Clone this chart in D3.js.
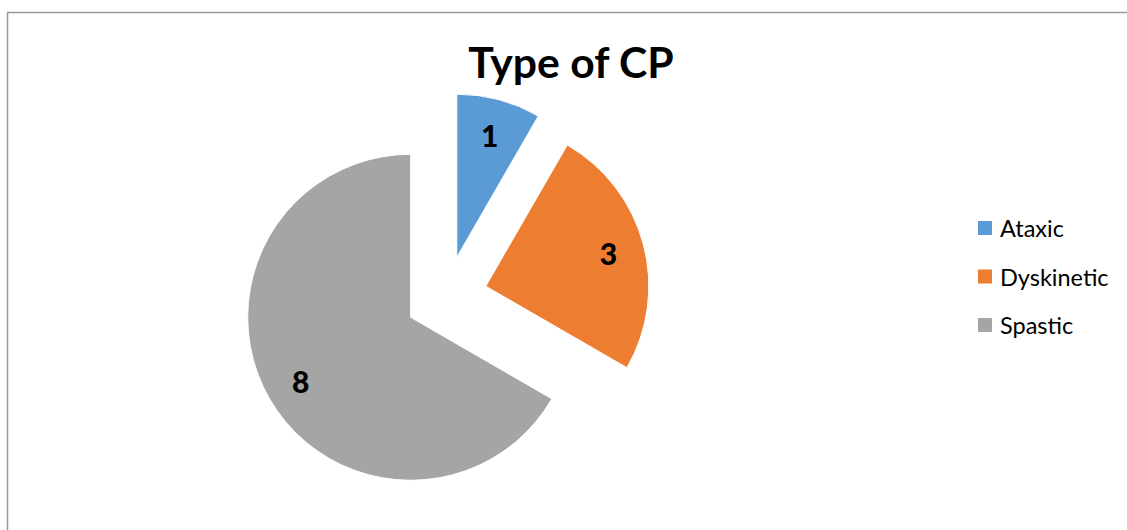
<!DOCTYPE html>
<html>
<head>
<meta charset="utf-8">
<script src="https://cdn.jsdelivr.net/npm/d3@7"></script>
<style>
  html, body { margin: 0; padding: 0; background: #fff; }
  svg { display: block; }
</style>
</head>
<body>
<script>
const categories = ["Ataxic", "Dyskinetic", "Spastic"];
const values = [1, 3, 8];
const colors = ["#5B9BD5", "#ED7D31", "#A5A5A5"];
const title = "Type of CP";

const W = 1127, H = 530;
const svg = d3.select("body").append("svg").attr("width", W).attr("height", H);

// chart frame
svg.append("path")
  .attr("d", `M7.5,${H} V12.5 H${W}`)
  .attr("fill", "none").attr("stroke", "#999").attr("stroke-width", 1.5);

svg.append("text")
  .attr("x", 571).attr("y", 78)
  .attr("text-anchor", "middle")
  .attr("font-family", "Lato, 'Open Sans', sans-serif")
  .attr("font-weight", "bold")
  .attr("font-size", 42.7)
  .attr("fill", "#000")
  .text(title);

const cx = 446.2, cy = 296.8, R = 163, explode = 41, labelR = 127;
const data = categories.map((c, i) => ({ name: c, value: values[i], color: colors[i] }));
const pie = d3.pie().value(d => d.value).sort(null);
const arc = d3.arc().innerRadius(0).outerRadius(R);
const arcs = pie(data);

const g = svg.append("g").attr("transform", `translate(${cx},${cy})`);
const slices = g.selectAll("g.slice").data(arcs).join("g")
  .attr("class", "slice")
  .attr("transform", d => {
    const m = (d.startAngle + d.endAngle) / 2;
    return `translate(${explode * Math.sin(m)},${-explode * Math.cos(m)})`;
  });

slices.append("path")
  .attr("d", arc)
  .attr("fill", d => d.data.color)
  .attr("stroke", "#fff").attr("stroke-width", 1);

slices.append("text")
  .attr("x", d => labelR * Math.sin((d.startAngle + d.endAngle) / 2))
  .attr("y", d => -labelR * Math.cos((d.startAngle + d.endAngle) / 2))
  .attr("text-anchor", "middle")
  .attr("dominant-baseline", "central")
  .attr("font-family", "Lato, 'Open Sans', sans-serif")
  .attr("font-weight", "900")
  .attr("font-size", 30)
  .attr("fill", "#000")
  .text(d => d.data.value);

// legend
const legend = svg.append("g").attr("transform", "translate(978,221)");
const li = legend.selectAll("g").data(data).join("g")
  .attr("transform", (d, i) => `translate(0,${i * 48.5})`);
li.append("rect").attr("width", 14).attr("height", 14).attr("fill", d => d.color);
li.append("text")
  .attr("x", 22).attr("y", 7)
  .attr("dominant-baseline", "central")
  .attr("font-family", "Lato, 'Open Sans', sans-serif")
  .attr("font-size", 23.5)
  .attr("fill", "#000")
  .text(d => d.name);
</script>
</body>
</html>
